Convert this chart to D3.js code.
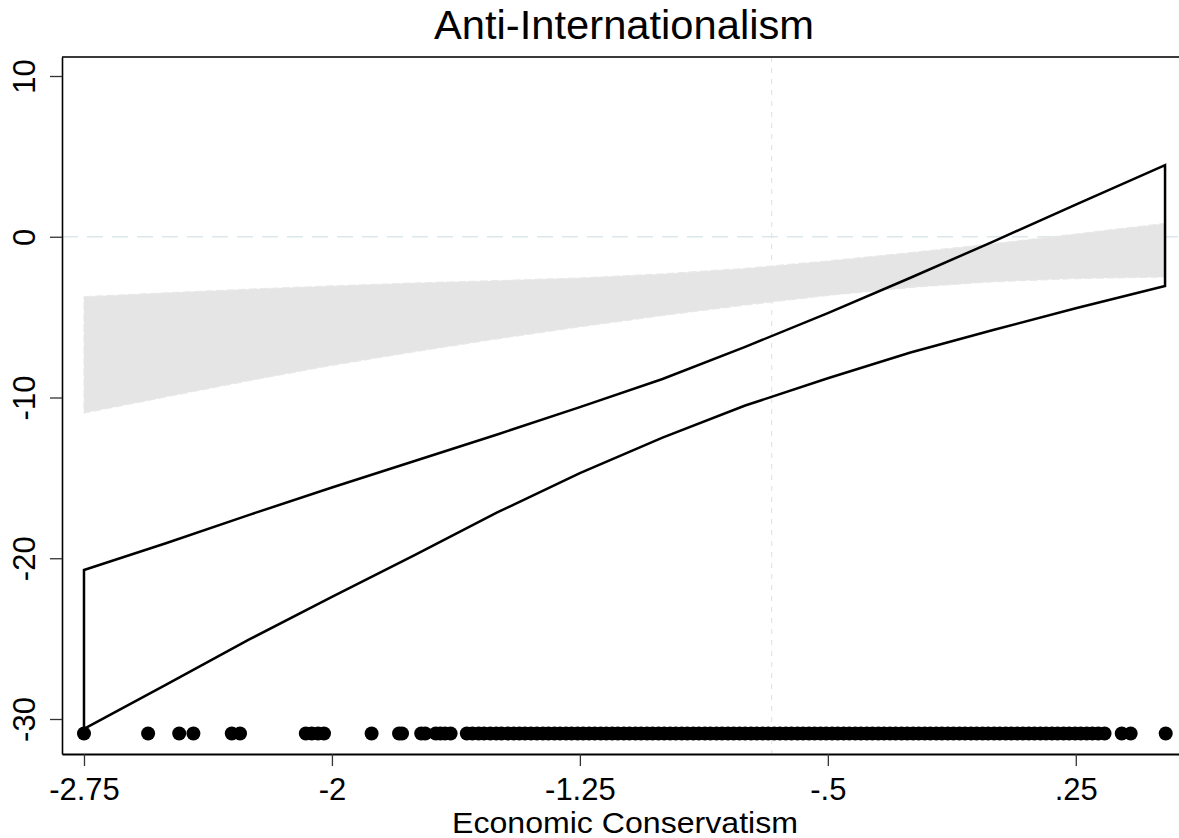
<!DOCTYPE html>
<html>
<head>
<meta charset="utf-8">
<script src="https://cdn.jsdelivr.net/npm/d3@7"></script>
<style>
  html, body { margin: 0; padding: 0; background: #ffffff; }
  svg { display: block; }
  text { font-family: "Liberation Sans", Arial, sans-serif; fill: #000; }
</style>
</head>
<body>
<svg id="chart" width="1179" height="838"></svg>
<script>
// ---------------- data ----------------
const chartTitle = "Anti-Internationalism";
const xTitle = "Economic Conservatism";

// evaluation points (Economic Conservatism)
const xGrid = [-2.75, -2.5, -2.25, -2.0, -1.75, -1.5, -1.25, -1.0, -0.75, -0.5, -0.25, 0.0, 0.25, 0.52];

// black confidence bounds
const blackUpper = [-20.73, -19.05, -17.3, -15.6, -13.95, -12.3, -10.6, -8.85, -6.85, -4.75, -2.55, -0.3, 2.0, 4.46];
const blackLower = [-30.62, -27.85, -25.05, -22.4, -19.8, -17.15, -14.7, -12.5, -10.5, -8.8, -7.2, -5.8, -4.45, -3.06];

// gray confidence band
const grayUpper = [-3.73, -3.49, -3.26, -3.06, -2.88, -2.73, -2.57, -2.31, -1.97, -1.51, -0.99, -0.44, 0.17, 0.83];
const grayLower = [-10.97, -9.95, -8.95, -8.0, -7.15, -6.35, -5.6, -4.9, -4.25, -3.65, -3.15, -2.8, -2.6, -2.5];

// rug of observed values (plotted at y = rugY)
const rugY = -30.9;
const rugX = [-2.75, -2.556, -2.462, -2.419, -2.303, -2.278,
  -2.079, -2.061, -2.042, -2.024, -1.88, -1.797, -1.788, -1.73, -1.718,
  -1.686, -1.672, -1.658, -1.641,
  -1.592, -1.575, -1.556, -1.54, -1.521, -1.503, -1.487, -1.468, -1.45, -1.433,
  -1.416, -1.398, -1.38, -1.362, -1.345, -1.327, -1.31, -1.292, -1.275, -1.257,
  -1.24, -1.222, -1.205, -1.187, -1.17, -1.152, -1.135, -1.117, -1.1, -1.082,
  -1.065, -1.047, -1.03, -1.012, -0.995, -0.977, -0.96, -0.942, -0.925, -0.907,
  -0.89, -0.872, -0.855, -0.837, -0.82, -0.802, -0.785, -0.767, -0.75, -0.732,
  -0.715, -0.697, -0.68, -0.662, -0.645, -0.627, -0.61, -0.592, -0.575, -0.557,
  -0.54, -0.522, -0.505, -0.487, -0.47, -0.452, -0.435, -0.417, -0.4, -0.382,
  -0.365, -0.347, -0.33, -0.312, -0.295, -0.277, -0.26, -0.242, -0.225, -0.207,
  -0.19, -0.172, -0.155, -0.137, -0.12, -0.102, -0.085, -0.067, -0.05, -0.032,
  -0.015, 0.003, 0.02, 0.038, 0.055, 0.073, 0.09, 0.108, 0.125, 0.143,
  0.16, 0.178, 0.195, 0.213, 0.23, 0.248, 0.265, 0.283, 0.3, 0.318,
  0.337, 0.389, 0.416, 0.522];

// reference lines
const refY = 0;
const refX = -0.67;

// axis ticks
const xTickValues = [-2.75, -2, -1.25, -0.5, 0.25];
const xTickLabels = ["-2.75", "-2", "-1.25", "-.5", ".25"];
const yTickValues = [10, 0, -10, -20, -30];
const yTickLabels = ["10", "0", "-10", "-20", "-30"];

// ---------------- layout ----------------
const svg = d3.select("#chart");
const plotLeft = 62, plotTop = 57, plotBottom = 754, plotRight = 1186;

const x = d3.scaleLinear().domain([-2.8165, 0.5834]).range([plotLeft, plotRight]);
const y = d3.scaleLinear().domain([-32.177, 11.182]).range([plotBottom, plotTop]);

const rows = xGrid.map((v, i) => ({ x: v, bu: blackUpper[i], bl: blackLower[i], gu: grayUpper[i], gl: grayLower[i] }));

// reference lines (under the band)
svg.append("line")
  .attr("x1", plotLeft).attr("x2", plotRight)
  .attr("y1", y(refY)).attr("y2", y(refY))
  .attr("stroke", "#dce8ec").attr("stroke-width", 1.6)
  .attr("stroke-dasharray", "16,9");
svg.append("line")
  .attr("x1", x(refX)).attr("x2", x(refX))
  .attr("y1", plotTop).attr("y2", plotBottom)
  .attr("stroke", "#dce8ec").attr("stroke-width", 1.2)
  .attr("stroke-dasharray", "5,6");

// gray band
const grayArea = d3.area().x(d => x(d.x)).y0(d => y(d.gl)).y1(d => y(d.gu));
svg.append("path").datum(rows)
  .attr("d", grayArea)
  .attr("fill", "#e5e5e5")
  .attr("stroke", "#e8e8e8").attr("stroke-width", 1.2)
  .attr("stroke-dasharray", "8,3");

// black outlined band
const blackArea = d3.area().x(d => x(d.x)).y0(d => y(d.bl)).y1(d => y(d.bu));
svg.append("path").datum(rows)
  .attr("d", blackArea)
  .attr("fill", "none")
  .attr("stroke", "#000").attr("stroke-width", 2.5)
  .attr("stroke-linejoin", "miter");

// rug dots
svg.append("g").selectAll("circle").data(rugX).join("circle")
  .attr("cx", d => x(d)).attr("cy", y(rugY)).attr("r", 7)
  .attr("fill", "#000");

// frame
svg.append("line").attr("x1", plotLeft).attr("x2", plotRight)
  .attr("y1", plotTop).attr("y2", plotTop)
  .attr("stroke", "#3a3a3a").attr("stroke-width", 1.8);

// x axis
const xAxis = d3.axisBottom(x).tickValues(xTickValues)
  .tickFormat((d, i) => xTickLabels[i]).tickSize(12).tickSizeOuter(0);
const gx = svg.append("g").attr("transform", `translate(0,${plotBottom})`).call(xAxis);
gx.select(".domain").attr("stroke", "#000").attr("stroke-width", 1.8);
gx.selectAll(".tick line").attr("stroke", "#333").attr("stroke-width", 1.3);
gx.selectAll(".tick text")
  .attr("y", 46).attr("dy", 0)
  .style("font-family", '"Liberation Sans", Arial, sans-serif')
  .style("font-size", "31px").attr("fill", "#000");

// y axis
const yAxis = d3.axisLeft(y).tickValues(yTickValues)
  .tickFormat((d, i) => yTickLabels[i]).tickSize(12).tickSizeOuter(0);
const gy = svg.append("g").attr("transform", `translate(${plotLeft},0)`).call(yAxis);
gy.select(".domain").attr("stroke", "#000").attr("stroke-width", 1.6);
gy.selectAll(".tick line").attr("stroke", "#333").attr("stroke-width", 1.3);
gy.selectAll(".tick text")
  .attr("x", 0).attr("y", -27).attr("dy", 0)
  .attr("transform", "rotate(-90)")
  .attr("text-anchor", "middle")
  .style("font-family", '"Liberation Sans", Arial, sans-serif')
  .style("font-size", "31px").attr("fill", "#000");

// titles
svg.append("text").attr("x", 624).attr("y", 39)
  .attr("text-anchor", "middle").style("font-size", "40px")
  .attr("textLength", 380).attr("lengthAdjust", "spacingAndGlyphs")
  .text(chartTitle);
svg.append("text").attr("x", 625).attr("y", 833)
  .attr("text-anchor", "middle").style("font-size", "29px")
  .attr("textLength", 346).attr("lengthAdjust", "spacingAndGlyphs")
  .text(xTitle);
</script>
</body>
</html>
